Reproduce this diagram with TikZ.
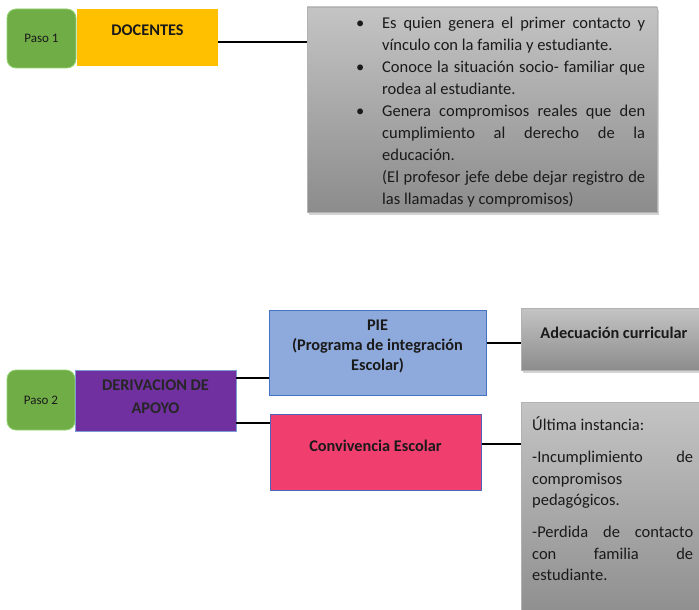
\documentclass[tikz,border=0pt]{standalone}
\usepackage{fontspec}
\usepackage{graphicx}
\setmainfont{Carlito}
\usetikzlibrary{shadows,calc}
\definecolor{pgreen}{HTML}{70AD47}
\definecolor{pgreenl}{HTML}{92D36E}
\definecolor{porange}{HTML}{FFC000}
\definecolor{ppurple}{HTML}{7030A0}
\definecolor{pieblue}{HTML}{8EA9DB}
\definecolor{pborder}{HTML}{4472C4}
\definecolor{ppink}{HTML}{F03E6F}
\definecolor{gtop}{HTML}{C4C4C4}
\definecolor{gbot}{HTML}{8C8C8C}
\definecolor{txt}{HTML}{1A1A1A}
\newsavebox\mytmpbox
\newcommand\myfit[2]{\sbox\mytmpbox{#2}\ifdim\wd\mytmpbox>#1\resizebox{#1}{\height}{#2}\else\makebox[#1][s]{#2}\fi}
\newcommand\myjl[1]{\myfit{263pt}{#1}}
\newcommand\myll[1]{\makebox[263pt][l]{#1}}
\newcommand\mybl{\makebox[28pt][l]{\hspace{2pt}\textbullet}}
\newcommand\mynb{\makebox[28pt][l]{}}
\newcommand\myju[1]{\myfit{161pt}{#1}}
\newcommand\mylu[1]{\makebox[161pt][l]{#1}}
\begin{document}
\begin{tikzpicture}[x=1pt,y=-1pt,
  pasobox/.style={draw=pgreenl, line width=0.8pt, fill=pgreen, rounded corners=9pt,
    font=\fontsize{13}{15}\selectfont, text=txt, inner sep=0pt},
  docbox/.style={fill=porange, draw=none, inner sep=0pt},
  derivbox/.style={fill=ppurple, draw=pborder!70, line width=0.6pt, inner sep=0pt},
  piebox/.style={fill=pieblue, draw=pborder, line width=1pt, inner sep=0pt},
  convbox/.style={fill=ppink, draw=pborder!80!ppurple, line width=1pt, inner sep=0pt},
  graybox/.style={top color=gtop, bottom color=gbot, draw=gray!60, line width=0.3pt,
    drop shadow={opacity=0.35, shadow xshift=2pt, shadow yshift=-3pt}, inner sep=0pt},
  boldtxt/.style={font=\bfseries\fontsize{16.3}{20}\selectfont, align=center, inner sep=0pt, text=txt},
  bodytxt/.style={font=\fontsize{16.5}{22}\selectfont, align=left, inner sep=0pt, text=txt},
  conn/.style={line width=1.6pt, black}
]
\useasboundingbox (0,0) rectangle (699,610);
\clip (0,0) rectangle (699,610);

% Paso 1
\node[pasobox, minimum width=69pt, minimum height=59pt] (p1) at (41.5,38.5) {Paso 1};
\node[docbox, minimum width=141pt, minimum height=57pt] (doc) at (147.5,37.5) {};
\node[boldtxt] (doct) at (147.5,30) {DOCENTES};
\node[graybox, minimum width=350pt, minimum height=205pt] (g1) at (482,109.5) {};
\node[bodytxt, anchor=north west] (g1t) at (354,17) {%
\mybl\myjl{Es quien genera el primer contacto y}\\
\mynb\myll{vínculo con la familia y estudiante.}\\
\mybl\myjl{Conoce la situación socio- familiar que}\\
\mynb\myll{rodea al estudiante.}\\
\mybl\myjl{Genera compromisos reales que den}\\
\mynb\myjl{cumplimiento al derecho de la}\\
\mynb\myll{educación.}\\
\mynb\myjl{(El profesor jefe debe dejar registro de}\\
\mynb\myll{las llamadas y compromisos)}};
\draw[conn] ([yshift=-4.5pt]doc.east) -- ([yshift=-4.5pt]doc.east -| g1.west);

% Paso 2
\node[pasobox, minimum width=68pt, minimum height=60pt] (p2) at (41,400) {Paso 2};
\node[derivbox, minimum width=161pt, minimum height=61pt] (der) at (155.5,400.5) {};
\node[boldtxt, font=\bfseries\fontsize{16.3}{23}\selectfont, text=black!85] (dert) at (155.5,396.5) {DERIVACION DE\\APOYO};
\node[piebox, minimum width=217pt, minimum height=85pt] (pie) at (377.5,352.5) {};
\node[boldtxt] (piet) at (377.5,346) {PIE\\(Programa de integración\\Escolar)};
\node[convbox, minimum width=211pt, minimum height=76pt] (conv) at (375.5,452) {};
\node[boldtxt] (convt) at (375.5,446) {Convivencia Escolar};
\node[graybox, minimum width=191pt, minimum height=62pt] (adec) at (616.5,339) {};
\node[boldtxt] (adect) at (614,333) {Adecuación curricular};
\node[graybox, minimum width=191pt, minimum height=223pt] (ult) at (616.5,513.5) {};
\node[bodytxt, font=\fontsize{16.5}{21.5}\selectfont, anchor=north west] (ultt) at (532,417) {%
\mylu{Última instancia:}\\[10.5pt]
\myju{-Incumplimiento de}\\
\mylu{compromisos}\\
\mylu{pedagógicos.}\\[10.5pt]
\myju{-Perdida de contacto}\\
\myju{con familia de}\\
\mylu{estudiante.}};

\draw[conn] (der.east |- 0,378) -- (pie.west |- 0,378);
\draw[conn] (der.east |- 0,423) -- (conv.west |- 0,423);
\draw[conn] (pie.east |- 0,343) -- (adec.west |- 0,343);
\draw[conn] (conv.east |- 0,444) -- (ult.west |- 0,444);
\end{tikzpicture}
\end{document}
